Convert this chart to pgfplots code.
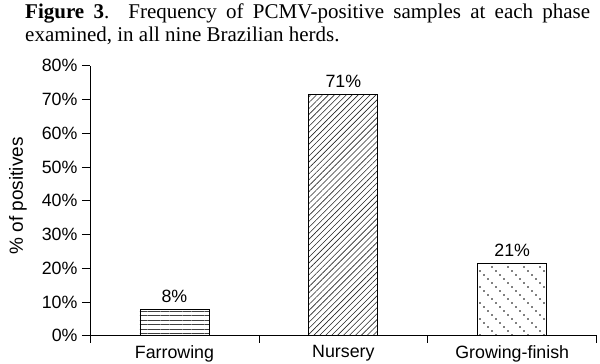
\documentclass[border=0pt]{standalone}
\usepackage{pgfplots}
\pgfplotsset{compat=1.18}
\usepackage{fontspec}
\setmainfont{Liberation Sans}
\newfontfamily\timesfont{Liberation Serif}
\usetikzlibrary{patterns.meta}
\pgfdeclarepatternformonly{dotdiag}{\pgfpointorigin}{\pgfqpoint{16pt}{16pt}}{\pgfqpoint{16pt}{16pt}}{%
\pgfpathcircle{\pgfqpoint{2pt}{14pt}}{0.85pt}%
\pgfpathcircle{\pgfqpoint{6pt}{10pt}}{0.85pt}%
\pgfpathcircle{\pgfqpoint{10pt}{6pt}}{0.85pt}%
\pgfpathcircle{\pgfqpoint{14pt}{2pt}}{0.85pt}%
\pgfusepath{fill}}
\newcommand{\lab}{\fontsize{17.8bp}{20bp}\selectfont}
\begin{document}
\begin{tikzpicture}
\useasboundingbox (0,0) rectangle (600bp,364bp);
\node[anchor=base west, inner sep=0, font=\timesfont\fontsize{21bp}{23bp}\selectfont] at (25bp,345bp) {\makebox[565bp][s]{\textbf{Figure 3}. Frequency of PCMV-positive samples at each phase}};
\node[anchor=base west, inner sep=0, font=\timesfont\fontsize{21bp}{23bp}\selectfont] at (25bp,322bp) {examined, in all nine Brazilian herds.};
\node[rotate=90, inner sep=0, font=\fontsize{19bp}{22bp}\selectfont] at (18bp,168bp) {\% of positives};
\begin{axis}[
  at={(90bp,28.3bp)}, anchor=south west,
  scale only axis, width=506.7bp, height=270bp,
  xmin=0.5, xmax=3.5, ymin=0, ymax=80,
  axis x line=bottom, axis y line=left,
  axis line style={-, line width=0.8bp},
  tick align=outside,
  major tick length=8bp, minor tick length=7bp,
  tick style={line width=0.8bp, black},
  major x tick style={draw=none},
  xtick={1,2,3}, xticklabels={Farrowing,Nursery,Growing-finish},
  minor xtick={0.5,1.5,2.5,3.5},
  ytick={0,10,...,80},
  /pgf/number format/assume math mode=true,
  yticklabel={\pgfmathprintnumber{\tick}\%},
  ticklabel style={font=\lab},
  yticklabel style={xshift=-1bp},
  xticklabel style={yshift=2bp},
  clip=false,
]
\addplot[ybar, bar width=69bp, bar shift=0pt, draw=black, line width=0.8bp,
  pattern={Lines[angle=0,distance=4.4bp,line width=0.5bp]}, pattern color=black!75]
  coordinates {(1,7.9)};
\addplot[ybar, bar width=69bp, bar shift=0pt, draw=black, line width=0.8bp,
  pattern={Lines[angle=45,distance=4.2bp,line width=0.6bp]}, pattern color=black!85]
  coordinates {(2,71.5)};
\addplot[ybar, bar width=69bp, bar shift=0pt, draw=black, line width=0.8bp,
  pattern=dotdiag, pattern color=black]
  coordinates {(3,21.4)};
\addplot[draw=none, mark=none, nodes near coords, point meta=explicit symbolic,
  every node near coord/.style={anchor=south, text=black, font=\lab, yshift=3bp}]
  coordinates {(1,7.9)[8\%] (2,71.5)[71\%] (3,21.4)[21\%]};
\end{axis}
\end{tikzpicture}
\end{document}
